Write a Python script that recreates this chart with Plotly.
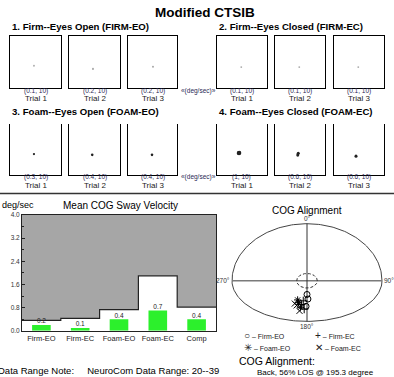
import numpy as np
import plotly.graph_objects as go

W, H = 394, 377
FONT = "Liberation Sans, Arial, sans-serif"


def px(x):
    return x / W


def py(y):
    return 1 - y / H


# ---------------- data ----------------
condition_titles = ["1. Firm--Eyes Open (FIRM-EO)", "2. Firm--Eyes Closed (FIRM-EC)",
                    "3. Foam--Eyes Open (FOAM-EO)", "4. Foam--Eyes Closed (FOAM-EC)"]
condition_keys = ["FIRM-EO", "FIRM-EC", "FOAM-EO", "FOAM-EC"]
trial_names = ["Trial 1", "Trial 2", "Trial 3"]
trial_velocity = {
    "FIRM-EO": [0.1, 0.2, 0.2],
    "FIRM-EC": [0.1, 0.1, 0.1],
    "FOAM-EO": [0.3, 0.4, 0.4],
    "FOAM-EC": [1, 0.6, 0.6],
}
trial_scale = {k: [10, 10, 10] for k in condition_keys}
# sway trace (x, y) points for each trial
sway_x = {
    "FIRM-EO": [[-0.6], [-0.6], [0.2]],
    "FIRM-EC": [[-0.3], [-0.3], [-0.3]],
    "FOAM-EO": [[-0.6], [-0.9], [-0.2]],
    "FOAM-EC": [[-1.3, -1.1, -1.2], [-0.9, -0.7], [-1.2]],
}
sway_y = {
    "FIRM-EO": [[-1.3], [-2.5], [-1.7]],
    "FIRM-EC": [[-1.8], [-1.8], [-1.8]],
    "FOAM-EO": [[-1.9], [-2.2], [-2.2]],
    "FOAM-EC": [[-1.5, -1.4, -1.6], [-2.3, -1.6], [-2.7]],
}

categories = ["Firm-EO", "Firm-EC", "Foam-EO", "Foam-EC", "Comp"]
sway_mean = [0.2, 0.1, 0.4, 0.7, 0.4]
norm_limit = [0.36, 0.43, 0.73, 1.9, 0.82]
y_ticks = [0.0, 0.8, 1.6, 2.4, 3.2, 4.0]
y_max = 4.0

# COG alignment (degrees)
los_lateral, los_forward, los_back = 8.0, 6.25, 4.45
inner_rx, inner_ry = 1.1, 0.8
cog_firm_eo_x, cog_firm_eo_y = [0.0, 0.1, -0.1], [-1.5, -2.0, -2.8]
cog_firm_ec_x, cog_firm_ec_y = [-0.4, -0.6, -0.3], [-2.2, -2.6, -3.1]
cog_foam_eo_x, cog_foam_eo_y = [-0.9, -0.7, -1.0], [-2.4, -2.9, -2.1]
cog_foam_ec_x, cog_foam_ec_y = [-1.1, -0.8, -1.3], [-2.7, -3.3, -2.5]
cog_summary = "Back, 56% LOS @ 195.3 degree"

# ---------------- figure ----------------
fig = go.Figure()
layout = dict(width=W, height=H, margin=dict(l=0, r=0, t=0, b=0),
              paper_bgcolor="white", plot_bgcolor="white", showlegend=False,
              font=dict(family=FONT, color="black"), barmode="overlay")
annotations = []
shapes = []


def note(x, y, text, size, xanchor="center", color="black", bold=False):
    annotations.append(dict(x=px(x), y=py(y), xref="paper", yref="paper", xanchor=xanchor,
                            yanchor="middle", showarrow=False,
                            text=("<b>%s</b>" % text) if bold else text,
                            font=dict(size=size, color=color, family=FONT)))


col_x = [(10, 61), (69, 120), (128, 177), (217, 267), (275, 325), (334, 384)]
row_y = [(33, 86), (122, 174)]
title_pos = [(10, 23), (217, 23), (10, 110), (217, 110)]

k = 0
for ci, key in enumerate(condition_keys):
    row = ci // 2
    side = ci % 2
    tx, ty = title_pos[ci]
    note(tx, ty, condition_titles[ci], 9.6, xanchor="left", bold=True)
    for ti in range(3):
        k += 1
        x0, x1 = col_x[side * 3 + ti]
        y0, y1 = row_y[row]
        xa = "xaxis" if k == 1 else "xaxis%d" % k
        ya = "yaxis" if k == 1 else "yaxis%d" % k
        xr = "x" if k == 1 else "x%d" % k
        yr = "y" if k == 1 else "y%d" % k
        layout[xa] = dict(domain=[px(x0), px(x1)], range=[-10, 10], anchor=yr,
                          showline=True, mirror=(row == 0), linecolor="black", linewidth=1,
                          showticklabels=False, showgrid=False, zeroline=False, ticks="", fixedrange=True)
        layout[ya] = dict(domain=[py(y1), py(y0)], range=[-10, 10], anchor=xr,
                          showline=True, mirror=True, linecolor="black", linewidth=1,
                          showticklabels=False, showgrid=False, zeroline=False, ticks="", fixedrange=True)
        v = trial_velocity[key][ti]
        fig.add_trace(go.Scatter(x=sway_x[key][ti], y=sway_y[key][ti], mode="markers+lines",
                                 xaxis=xr, yaxis=yr,
                                 line=dict(color="#222" if row else "#aaa", width=1),
                                 marker=dict(size=1.6 + 2.4 * v, color="#222" if row else "#aaa")))
        cx = (x0 + x1) / 2
        note(cx, y1 + 2.5, "(%g, %g)" % (v, trial_scale[key][ti]), 6.5, color="#2a2a55")
        note(cx, y1 + 10.5, trial_names[ti], 8, color="#222")
    if side == 0:
        note(179, row_y[row][1] + 2.5, "«(deg/sec)»", 6.5, xanchor="left", color="#2a2a55")

note(205, 9, "Modified CTSIB", 13.5, bold=True)
shapes.append(dict(type="line", xref="paper", yref="paper", x0=0, x1=1, y0=py(193), y1=py(193),
                   line=dict(color="#333", width=1.5)))

# ---------------- bar chart ----------------
bx, by = "x13", "y13"
layout["xaxis13"] = dict(domain=[px(22), px(216)], range=[-0.5, len(categories) - 0.5], anchor=by,
                         tickvals=list(range(len(categories))), ticktext=categories,
                         tickfont=dict(size=7.5, color="#222"), showline=True, mirror=True,
                         linecolor="#222", linewidth=1, ticks="", showgrid=False, zeroline=False)
layout["yaxis13"] = dict(domain=[py(333), py(215)], range=[0, y_max], anchor=bx,
                         tickvals=y_ticks, tickformat=".1f", tickfont=dict(size=6.5, color="#333"),
                         ticks="inside", ticklen=3, tickcolor="#222",
                         minor=dict(ticks="inside", ticklen=2, dtick=0.4, tick0=0, tickcolor="#222"),
                         showline=True, mirror=True, linecolor="#222", linewidth=1,
                         showgrid=False, zeroline=False)
xs = list(range(len(categories)))
edge_x = [-0.5] + xs + [len(categories) - 0.5]
fig.add_trace(go.Scatter(x=[edge_x[0], edge_x[-1]], y=[y_max, y_max], mode="lines",
                         line=dict(width=0, color="rgba(0,0,0,0)"), xaxis=bx, yaxis=by))
fig.add_trace(go.Scatter(x=edge_x, y=[norm_limit[0]] + norm_limit + [norm_limit[-1]],
                         mode="lines", line=dict(color="#222", width=1.2, shape="hvh"),
                         fill="tonexty", fillcolor="#a6a6a6", xaxis=bx, yaxis=by))
fig.add_trace(go.Bar(x=xs, y=sway_mean, width=0.48, marker=dict(color="#2cf02c", line=dict(width=0)),
                     xaxis=bx, yaxis=by))
fig.add_trace(go.Scatter(x=xs, y=sway_mean, mode="text", text=["%.1f" % v for v in sway_mean],
                         textposition="top center", textfont=dict(size=6.5, color="#222"),
                         cliponaxis=False, xaxis=bx, yaxis=by))
note(0, 205, "deg/sec", 9, xanchor="left")
note(120, 205, "Mean COG Sway Velocity", 10)
note(-4, 373, "Data Range Note:     NeuroCom Data Range: 20--39", 9.5, xanchor="left")

# ---------------- COG alignment ----------------
cx_, cy_ = "x14", "y14"
sx, sy = 9.375, 9.3
layout["xaxis14"] = dict(domain=[px(220), px(394)], range=[-87 / sx, 87 / sx], anchor=cy_,
                         showgrid=False, zeroline=False, showticklabels=False, showline=False, ticks="")
layout["yaxis14"] = dict(domain=[py(332), py(214)], range=[-(332 - 282) / sy, (282 - 214) / sy],
                         anchor=cx_, showgrid=False, zeroline=False, showticklabels=False,
                         showline=False, ticks="")
t = np.linspace(0, 2 * np.pi, 241)
ry = np.where(np.sin(t) >= 0, los_forward, los_back)
fig.add_trace(go.Scatter(x=los_lateral * np.cos(t), y=ry * np.sin(t), mode="lines",
                         line=dict(color="#444", width=1), xaxis=cx_, yaxis=cy_))
fig.add_trace(go.Scatter(x=[-los_lateral, los_lateral], y=[0, 0], mode="lines",
                         line=dict(color="#7a7a7a", width=1.6), xaxis=cx_, yaxis=cy_))
fig.add_trace(go.Scatter(x=[0, 0], y=[-los_back, los_forward], mode="lines",
                         line=dict(color="#333", width=1), xaxis=cx_, yaxis=cy_))
fig.add_trace(go.Scatter(x=inner_rx * np.cos(t), y=inner_ry * np.sin(t), mode="lines",
                         line=dict(color="#333", width=1, dash="3px,2px"), xaxis=cx_, yaxis=cy_))
for xx, yy, sym in [(cog_firm_eo_x, cog_firm_eo_y, "circle-open"),
                    (cog_firm_ec_x, cog_firm_ec_y, "cross-thin-open"),
                    (cog_foam_eo_x, cog_foam_eo_y, "asterisk-open"),
                    (cog_foam_ec_x, cog_foam_ec_y, "x-thin-open")]:
    fig.add_trace(go.Scatter(x=xx, y=yy, mode="markers", xaxis=cx_, yaxis=cy_,
                             marker=dict(symbol=sym, size=6, color="black", line=dict(width=1, color="black"))))
for txt, ax_x, ax_y, xa, ya in [("0°", 0, los_forward, "center", "bottom"),
                                ("90°", los_lateral, 0, "left", "middle"),
                                ("180°", 0, -los_back, "center", "top"),
                                ("270°", -los_lateral, 0, "right", "middle")]:
    annotations.append(dict(x=ax_x, y=ax_y, xref=cx_, yref=cy_, xanchor=xa, yanchor=ya,
                            showarrow=False, text=txt, font=dict(size=6.5, color="#333")))
note(307, 210, "COG Alignment", 10)
for sym, txt, lx, ly in [("○", " – Firm-EO", 242, 338), ("+", " – Firm-EC", 313, 338),
                         ("✳", " – Foam-EO", 242, 350), ("✕", " – Foam-EC", 313, 350)]:
    note(lx, ly, "<span style='font-size:10px'>%s</span>%s" % (sym, txt), 7, xanchor="left", color="#222")
note(237, 364, "COG Alignment:", 10.5, xanchor="left")
note(255, 375, cog_summary, 8, xanchor="left")

layout["annotations"] = annotations
layout["shapes"] = shapes
fig.update_layout(**layout)
fig.write_html("out.html")
